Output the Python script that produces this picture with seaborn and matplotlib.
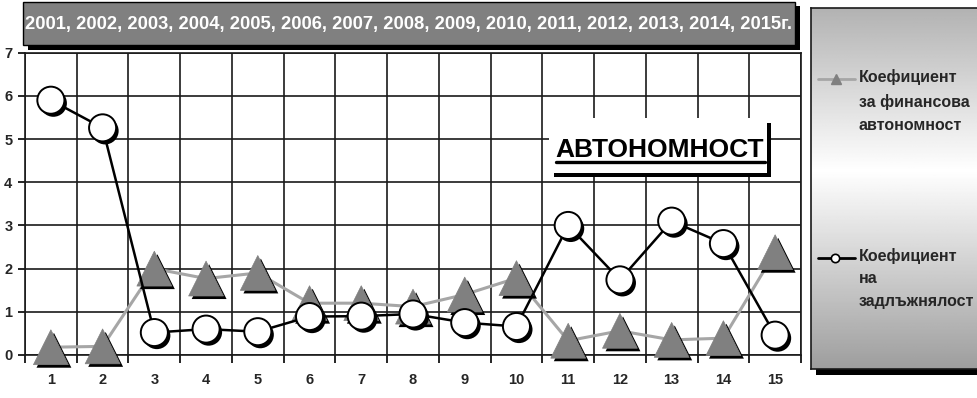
import numpy as np
import pandas as pd
import matplotlib
matplotlib.use("Agg")
import matplotlib.pyplot as plt
import matplotlib.patheffects as pe
from matplotlib.patches import Rectangle
from matplotlib.lines import Line2D
import seaborn as sns

# ---- data ----
periods = list(range(1, 16))
autonomy = [0.18, 0.20, 2.00, 1.77, 1.90, 1.20, 1.20, 1.12, 1.40, 1.78,
            0.33, 0.56, 0.35, 0.39, 2.38]
debt = [5.90, 5.26, 0.52, 0.60, 0.54, 0.89, 0.90, 0.95, 0.75, 0.66,
        3.00, 1.74, 3.10, 2.58, 0.46]
y_ticks = list(range(0, 8))
years = [str(y) for y in range(2001, 2016)]
title_text = ", ".join(years[:-1]) + ", " + years[-1] + "г."
label_autonomy = "Коефициент\nза финансова\nавтономност"
label_debt = "Коефициент\nна\nзадлъжнялост"
badge_text = "АВТОНОМНОСТ"

df = pd.DataFrame({"period": periods, "autonomy": autonomy, "debt": debt})

sns.set_style("white")
plt.rcParams["font.family"] = ["Liberation Sans", "DejaVu Sans"]
plt.rcParams["font.weight"] = "bold"

W, H = 978, 398
fig = plt.figure(figsize=(W / 100, H / 100), dpi=100)


def fx(px):
    return px / W


def fy(py):
    return 1 - py / H


# main plot area
ax = fig.add_axes([fx(25), fy(355), fx(801) - fx(25), fy(52.7) - fy(355)])

GREY_LINE = "#a6a6a6"
GREY_FILL = "#808080"

# autonomy series: line then triangle markers with a drop shadow
sns.lineplot(data=df, x="period", y="autonomy", ax=ax, color=GREY_LINE,
             lw=2.2, zorder=3, clip_on=False)
sns.scatterplot(data=df, x="period", y="autonomy", ax=ax, marker="^", s=630,
                color=GREY_FILL, edgecolor=GREY_FILL, linewidth=0.5,
                zorder=4, clip_on=False,
                path_effects=[pe.SimplePatchShadow(offset=(2.2, -2.2),
                                                   shadow_rgbFace="black", alpha=1),
                              pe.Normal()])

# debt series: line then circle markers with a drop shadow
sns.lineplot(data=df, x="period", y="debt", ax=ax, color="black",
             lw=1.8, zorder=5, clip_on=False)
sns.scatterplot(data=df, x="period", y="debt", ax=ax, marker="o", s=380,
                color="white", edgecolor="black", linewidth=1.4,
                zorder=6, clip_on=False,
                path_effects=[pe.SimplePatchShadow(offset=(1.8, -2.2),
                                                   shadow_rgbFace="black", alpha=1),
                              pe.Normal()])

ax.set_xlim(0.5, 15.5)
ax.set_ylim(0, 7)
ax.set_xticks(periods)
ax.set_xticklabels([str(p) for p in periods])
ax.set_xticks(np.arange(0.5, 16, 1), minor=True)
ax.set_yticks(y_ticks)
ax.set_xlabel("")
ax.set_ylabel("")

ax.tick_params(axis="x", which="major", length=0, pad=13, labelsize=10.5)
ax.tick_params(axis="x", which="minor", length=6, width=1.2, color="black",
               direction="out", bottom=True)
ax.tick_params(axis="y", which="major", length=5, width=1.2, color="black",
               direction="out", pad=4, labelsize=10.5, left=True)
for lab in ax.get_xticklabels() + ax.get_yticklabels():
    lab.set_fontweight("bold")

ax.grid(False)
ax.grid(True, axis="y", which="major", color="#1a1a1a", lw=1.2)
ax.grid(True, axis="x", which="minor", color="#1a1a1a", lw=1.2)
ax.set_axisbelow(True)
for sp in ax.spines.values():
    sp.set_visible(True)
    sp.set_color("#1a1a1a")
    sp.set_linewidth(1.2)

# title bar with shadow
fig.add_artist(Rectangle((fx(28), fy(50)), fx(800) - fx(28), fy(6) - fy(50),
                         transform=fig.transFigure, facecolor="black",
                         edgecolor="none", zorder=7))
fig.add_artist(Rectangle((fx(23), fy(45)), fx(795) - fx(23), fy(2) - fy(45),
                         transform=fig.transFigure, facecolor="#808080",
                         edgecolor="black", lw=1, zorder=8))
fig.text(fx(409), fy(24), title_text, color="white", fontsize=13.2,
         fontweight="bold", ha="center", va="center", zorder=9)

# badge label with shadow and underline
fig.add_artist(Rectangle((fx(554), fy(177)), fx(771) - fx(554), fy(123) - fy(177),
                         transform=fig.transFigure, facecolor="black",
                         edgecolor="none", zorder=7))
fig.add_artist(Rectangle((fx(549), fy(173)), fx(767) - fx(549), fy(118) - fy(173),
                         transform=fig.transFigure, facecolor="white",
                         edgecolor="none", zorder=8))
fig.text(fx(555), fy(157), badge_text, color="black", fontsize=19,
         fontweight="bold", ha="left", va="baseline", zorder=9)
fig.add_artist(Line2D([fx(556), fx(765)], [fy(162), fy(162)],
                      transform=fig.transFigure, color="black", lw=2.4, zorder=9))

# legend panel with gradient fill and shadow
fig.add_artist(Rectangle((fx(816), fy(375)), fx(1010) - fx(816), fy(14) - fy(375),
                         transform=fig.transFigure, facecolor="black",
                         edgecolor="none", zorder=-1))
lax = fig.add_axes([fx(811), fy(369), fx(1005) - fx(811), fy(8) - fy(369)])
stops = np.array([0.0, 0.45, 1.0])
vals = np.array([0.70, 1.0, 0.62])
grad = np.interp(np.linspace(0, 1, 256), stops, vals)[:, None]
lax.imshow(grad, cmap="gray", vmin=0, vmax=1, aspect="auto",
           extent=[0, 1, 1, 0])
lax.set_xlim(0, 1)
lax.set_ylim(1, 0)
lax.set_xticks([])
lax.set_yticks([])
for sp in lax.spines.values():
    sp.set_color("#1a1a1a")
    sp.set_linewidth(1.2)

# legend entries
fig.add_artist(Line2D([fx(818), fx(855)], [fy(79), fy(79)], transform=fig.transFigure,
                      color=GREY_LINE, lw=2, zorder=9))
fig.add_artist(Line2D([fx(836)], [fy(79)], transform=fig.transFigure, marker="^",
                      markersize=7, color=GREY_FILL, zorder=10))
fig.text(fx(859), fy(69), label_autonomy, fontsize=11.5, fontweight="bold",
         ha="left", va="top", linespacing=1.68, zorder=10)

fig.add_artist(Line2D([fx(818), fx(855)], [fy(258), fy(258)], transform=fig.transFigure,
                      color="black", lw=2, zorder=9))
fig.add_artist(Line2D([fx(835)], [fy(258)], transform=fig.transFigure, marker="o",
                      markersize=6, markerfacecolor="white", markeredgecolor="black",
                      markeredgewidth=1.2, zorder=10))
fig.text(fx(859), fy(248), label_debt, fontsize=11.5, fontweight="bold",
         ha="left", va="top", linespacing=1.62, zorder=10)

fig.savefig("out.png", dpi=100)
